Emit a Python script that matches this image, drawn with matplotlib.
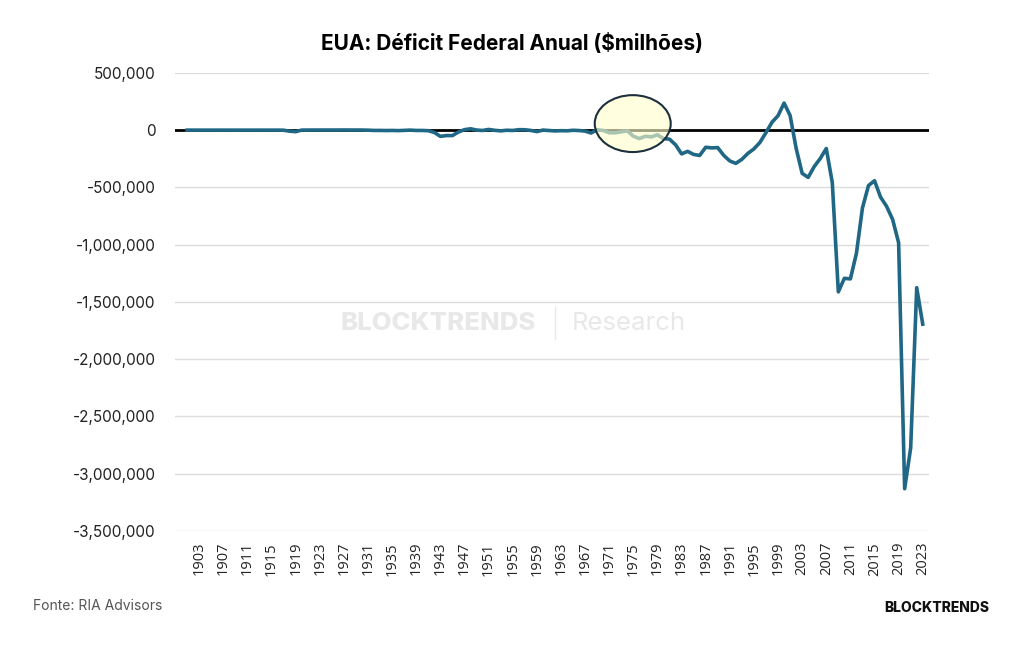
import matplotlib.pyplot as plt
from matplotlib.patches import Ellipse
from matplotlib.ticker import FuncFormatter

# Déficit/superávit federal anual dos EUA, em milhões de dólares
years = list(range(1901, 2024))
deficit = [
    63, 77, 45, -43, -23, 25, 87, -57, -89, -18,
    11, 3, 0, 0, -63, 48, -853, -9032, -13363, 291,
    509, 736, 713, 963, 717, 865, 1155, 939, 734, 738,
    -462, -2735, -2602, -3586, -2803, -4304, -2193, -89, -2846, -2920,
    -4941, -20503, -54554, -47557, -47553, -15936, 4018, 11796, 580, -3119,
    6102, -1519, -6493, -1154, -2993, 3947, 3412, -2769, -12849, 301,
    -3335, -7146, -4756, -5915, -1411, -3698, -8643, -25161, 3242, -2842,
    -23033, -23373, -14908, -6135, -53242, -73732, -53659, -59185, -40726, -73830,
    -78968, -127977, -207802, -185367, -212308, -221227, -149730, -155178, -152639, -221036,
    -269238, -290321, -255051, -203186, -163952, -107431, -21884, 69270, 125610, 236241,
    128236, -157758, -377585, -412727, -318346, -248181, -160701, -458553, -1412688, -1294373,
    -1299599, -1076573, -679775, -484602, -441960, -584651, -665446, -779137, -983592, -3131917,
    -2775329, -1375905, -1695000,
]
tick_years = list(range(1903, 2024, 4))
y_ticks = list(range(-3500000, 500001, 500000))

fig = plt.figure(figsize=(10.24, 6.45), dpi=100)
ax = fig.add_axes([0.171, 0.177, 0.736, 0.710])

ax.plot(years, deficit, color="#1f6785", linewidth=2.6, zorder=3, solid_joinstyle="round")
ax.axhline(0, color="black", linewidth=2, zorder=2)

# destaque dos anos 70
ax.add_patch(Ellipse((1974.9, 57000), 12.6, 497000, facecolor=(1.0, 1.0, 0.8, 0.62),
                     edgecolor="#1b2f3c", linewidth=1.5, zorder=4))

ax.set_xlim(1899, 2024)
ax.set_ylim(-3500000, 500000)
ax.set_yticks(y_ticks)
ax.yaxis.set_major_formatter(FuncFormatter(lambda v, p: f"{int(v):,}"))
ax.set_xticks(tick_years)
ax.set_xticklabels([str(y) for y in tick_years], rotation=90, fontsize=10.5,
                   family="Open Sans", color="#222222")
for lab in ax.get_yticklabels():
    lab.set_fontsize(11)
    lab.set_family("Inter")
    lab.set_color("#222222")
ax.tick_params(axis="both", length=0)
ax.tick_params(axis="y", pad=14)
ax.tick_params(axis="x", pad=8)
ax.grid(axis="y", color="#dddddd", linewidth=1)
ax.set_axisbelow(True)
for s in ax.spines.values():
    s.set_visible(False)

fig.text(0.5, 0.932, "EUA: Déficit Federal Anual ($milhões)", ha="center", va="center",
         fontsize=15, fontweight="bold", family="Inter")

# marca d'água
fig.text(0.523, 0.499, "BLOCKTRENDS", ha="right", va="center", fontsize=18.5,
         fontweight="heavy", family="Inter", color="#e8e8e8")
fig.text(0.558, 0.499, "Research", ha="left", va="center", fontsize=18.5,
         family="Inter", color="#e8e8e8")
fig.add_artist(plt.Line2D([0.542, 0.542], [0.474, 0.524], color="#e8e8e8", linewidth=1))

fig.text(0.032, 0.06, "Fonte: RIA Advisors", ha="left", va="center", fontsize=10,
         family="Inter", color="#555555")
fig.text(0.966, 0.058, "BLOCKTRENDS", ha="right", va="center", fontsize=10,
         fontweight="heavy", family="Inter", color="#111111")

fig.savefig("out.png", dpi=100)
